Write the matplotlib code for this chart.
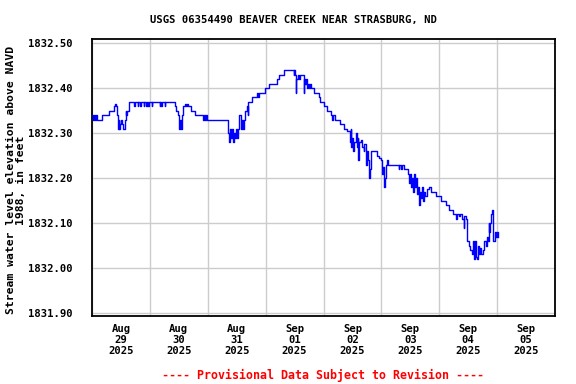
import datetime as dt
import matplotlib
matplotlib.use("Agg")
import matplotlib.pyplot as plt

# hours since 2025-08-29 00:00 and water level (ft, NAVD 1988)
hours = [0, 0.33, 0.67, 1.1, 1.6, 2.0, 4.2, 6.9, 9.0, 9.4, 9.8, 10.4, 10.7, 11.0, 11.4, 11.8,
         12.2, 12.6, 13.0, 13.5, 13.9, 14.3, 14.7, 15.25,
         17.6, 17.9, 18.9, 19.2, 20.1, 20.4, 21.4, 21.7, 22.6, 22.9, 23.25, 23.55, 24.7, 25.0,
         28.0, 28.3, 28.7, 29.0, 30.1, 30.4,
         34.3, 34.9, 35.5, 36.1, 36.5, 36.9, 37.5, 37.8, 38.5, 38.9, 39.5, 39.9, 41.25, 42.6,
         46.1, 46.5, 46.9, 47.3, 47.8,
         56.25, 56.6, 56.9, 57.2, 57.6, 58.0, 58.4, 58.9, 59.3, 59.7, 60.1, 60.7, 61.1, 61.6,
         62.1, 62.5, 62.9, 63.5, 64.2, 64.5, 64.8, 66.25, 68.3, 68.9, 69.3, 71.8, 73.2, 76.7,
         77.6, 79.8, 83.6, 83.9, 84.3, 84.6, 84.8, 85.25, 85.75, 86.2, 87.75, 88.0, 88.5,
         88.9, 89.3, 89.75, 90.1, 90.5, 90.9, 91.9, 94.0, 94.7, 96.4, 97.5, 99.3, 99.7, 100.1,
         100.7, 102.75, 104.4, 105.8, 106.9, 107.3, 107.6, 108.0, 108.3, 108.75, 109.3, 109.7,
         110.1, 110.4, 110.8, 111.4, 112.0, 112.6, 113.0, 113.6, 113.9, 114.3, 114.7, 115.1,
         115.5, 118.3, 118.9, 119.7, 120.1, 120.5, 120.9, 121.4, 122.0, 122.5, 122.9, 127.2,
         127.5, 128.2, 128.5, 129.5, 131.0, 131.4, 131.8, 132.2, 132.6, 133.0, 133.4, 133.9,
         134.3, 134.7, 135.1, 135.7, 136.1, 136.5, 136.9, 137.4, 137.8, 138.2, 138.9, 139.8,
         140.5, 142.6, 144.7, 146.8, 148.2, 149.6, 151.0, 151.4, 152.2, 152.6, 153.5, 154.2,
         154.4, 154.9, 155.4, 156.25, 156.9, 157.5, 157.8, 158.25, 158.5, 158.9, 159.3,
         159.75, 160.1, 160.6, 161.0, 161.4, 162.1, 162.75, 163.25, 163.7, 164.2, 164.5,
         164.8, 165.25, 165.5, 165.8, 166.25, 166.9, 167.3, 167.6, 167.9, 168.3]
levels = [1832.34, 1832.33, 1832.34, 1832.33, 1832.34, 1832.33, 1832.34, 1832.35, 1832.36,
          1832.365, 1832.36, 1832.34, 1832.31, 1832.33, 1832.31, 1832.32, 1832.33, 1832.32,
          1832.31, 1832.33, 1832.35, 1832.34, 1832.35, 1832.37,
          1832.36, 1832.37, 1832.36, 1832.37, 1832.36, 1832.37, 1832.36, 1832.37, 1832.36,
          1832.37, 1832.36, 1832.37, 1832.36, 1832.37,
          1832.36, 1832.37, 1832.36, 1832.37, 1832.36, 1832.37,
          1832.36, 1832.35, 1832.34, 1832.31, 1832.33, 1832.31, 1832.34, 1832.36, 1832.365,
          1832.36, 1832.365, 1832.36, 1832.35, 1832.34,
          1832.33, 1832.34, 1832.33, 1832.34, 1832.33,
          1832.32, 1832.30, 1832.28, 1832.31, 1832.29, 1832.31, 1832.28, 1832.30, 1832.29,
          1832.31, 1832.29, 1832.31, 1832.34, 1832.31, 1832.33, 1832.31, 1832.33, 1832.35,
          1832.36, 1832.34, 1832.37, 1832.38, 1832.39, 1832.38, 1832.39, 1832.40, 1832.41,
          1832.42, 1832.43, 1832.44, 1832.43, 1832.44, 1832.43, 1832.39, 1832.42, 1832.43,
          1832.42, 1832.43, 1832.39, 1832.42, 1832.41, 1832.42, 1832.40, 1832.41, 1832.40,
          1832.41, 1832.40, 1832.39, 1832.38, 1832.37, 1832.36, 1832.35, 1832.34, 1832.33,
          1832.34, 1832.33, 1832.32, 1832.31, 1832.305, 1832.28, 1832.31, 1832.27, 1832.29,
          1832.26, 1832.28, 1832.30, 1832.27, 1832.29, 1832.24, 1832.28, 1832.285, 1832.27,
          1832.26, 1832.275, 1832.23, 1832.26, 1832.24, 1832.20, 1832.22, 1832.26, 1832.25,
          1832.245, 1832.24, 1832.21, 1832.225, 1832.18, 1832.20, 1832.23, 1832.24, 1832.23,
          1832.22, 1832.23, 1832.22, 1832.23, 1832.22, 1832.21, 1832.19, 1832.21, 1832.18,
          1832.20, 1832.17, 1832.21, 1832.18, 1832.20, 1832.165, 1832.18, 1832.14, 1832.17,
          1832.155, 1832.18, 1832.15, 1832.17, 1832.16, 1832.175, 1832.18, 1832.17, 1832.16,
          1832.15, 1832.14, 1832.13, 1832.12, 1832.11, 1832.12, 1832.115, 1832.12, 1832.11,
          1832.09, 1832.115, 1832.11, 1832.06, 1832.05, 1832.04, 1832.03, 1832.06, 1832.04,
          1832.02, 1832.06, 1832.025, 1832.02, 1832.05, 1832.03, 1832.045, 1832.03, 1832.04,
          1832.06, 1832.05, 1832.07, 1832.06, 1832.10, 1832.08, 1832.10, 1832.12, 1832.13,
          1832.06, 1832.06, 1832.08, 1832.07, 1832.08, 1832.07]

y_ticks = [1831.90, 1832.00, 1832.10, 1832.20, 1832.30, 1832.40, 1832.50]
day_labels = ["Aug\n29\n2025", "Aug\n30\n2025", "Aug\n31\n2025", "Sep\n01\n2025",
              "Sep\n02\n2025", "Sep\n03\n2025", "Sep\n04\n2025", "Sep\n05\n2025"]

title = "USGS 06354490 BEAVER CREEK NEAR STRASBURG, ND"
ylabel = "Stream water level elevation above NAVD\n1988, in feet"
footer = "---- Provisional Data Subject to Revision ----"

start = dt.datetime(2025, 8, 29)
times = [start + dt.timedelta(hours=h) for h in hours]

mono = "DejaVu Sans Mono"
fig = plt.figure(figsize=(5.76, 3.84), dpi=100)
ax = fig.add_axes([92/576, 1 - 316/384, 463/576, 277/384])

ax.plot(times, levels, color="#0000ff", linewidth=1.0, drawstyle="steps-post", zorder=3)

ax.set_xlim(start, start + dt.timedelta(days=8))
ax.set_ylim(1831.8933, 1832.509)

midnights = [start + dt.timedelta(days=d) for d in range(9)]
noons = [start + dt.timedelta(days=d, hours=12) for d in range(8)]
ax.set_xticks(noons)
ax.set_xticklabels(day_labels, fontfamily=mono, fontweight="bold", fontsize=7.6,
                   linespacing=1.1)
ax.set_xticks(midnights, minor=True)
ax.set_yticks(y_ticks)
ax.set_yticklabels([f"{v:.2f}" for v in y_ticks], fontfamily=mono, fontweight="bold",
                   fontsize=7.6)
ax.tick_params(axis="both", which="both", length=0)
ax.tick_params(axis="x", pad=6)
ax.tick_params(axis="y", pad=14)
ax.grid(True, axis="y", which="major", color="#cccccc", linewidth=1.0)
ax.grid(True, axis="x", which="minor", color="#cccccc", linewidth=1.0)
ax.grid(False, axis="x", which="major")
for s in ax.spines.values():
    s.set_linewidth(1.3)
    s.set_color("black")

fig.text(293/576, 1 - 20/384, title, ha="center", va="center", fontfamily=mono,
         fontweight="bold", fontsize=7.6)
fig.text(16/576, 1 - 180/384, ylabel, ha="center", va="center", rotation=90,
         fontfamily=mono, fontweight="bold", fontsize=8.2, multialignment="center",
         linespacing=1.05)
fig.text(322.5/576, 1 - 375/384, footer, ha="center", va="center", fontfamily=mono,
         fontweight="bold", fontsize=8.4, color="#ff0000")

fig.savefig("out.png", dpi=100)
